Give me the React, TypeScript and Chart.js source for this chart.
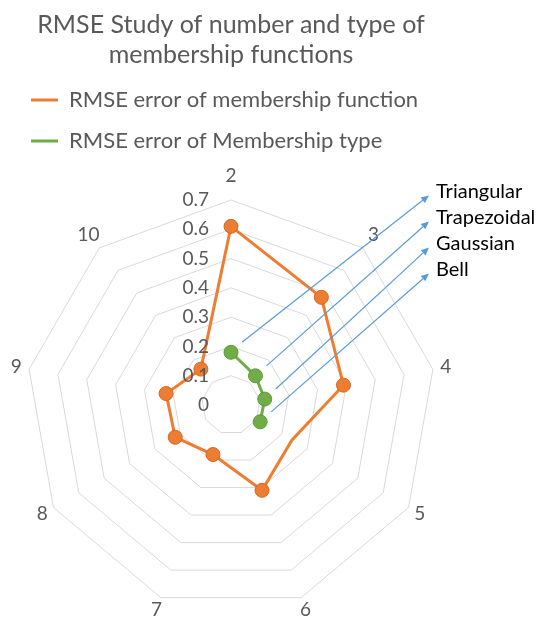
import React, { useEffect, useRef } from 'react';
import { Chart, registerables } from 'chart.js';

Chart.register(...registerables);

const TITLE_LINES = ['RMSE Study of number and type of', 'membership functions'];
const SERIES_NAMES = ['RMSE error of membership function', 'RMSE error of Membership type'];
const CATEGORIES = ['2', '3', '4', '5', '6', '7', '8', '9', '10'];
const MEMBERSHIP_FUNCTION_RMSE = [0.61, 0.48, 0.39, 0.24, 0.31, 0.18, 0.22, 0.225, 0.16];
const FUNCTION_MARKER_SHOWN = [1, 1, 1, 0, 1, 1, 1, 1, 1];
const MEMBERSHIP_TYPE_RMSE = [0.18, 0.13, 0.117, 0.115, null, null, null, null, null];
const MEMBERSHIP_TYPES = ['Triangular', 'Trapezoidal', 'Gaussian', 'Bell'];
const TICK_VALUES = [0, 0.1, 0.2, 0.3, 0.4, 0.5, 0.6, 0.7];
const TICK_LABELS = ['0', '0.1', '0.2', '0.3', '0.4', '0.5', '0.6', '0.7'];

const ORANGE = '#ED7D31';
const GREEN = '#70AD47';
const BLUE = '#5B9BD5';
const GRAY_TEXT = '#595959';
const FONT = 'Lato';

const overlayPlugin = {
  id: 'overlay',
  afterDatasetsDraw(chart: any) {
    const ctx = chart.ctx;
    const scale = chart.scales.r;
    const cx = scale.xCenter;
    const cy = scale.yCenter;
    const R = scale.drawingArea;
    ctx.save();
    // value tick labels (left of the first axis)
    ctx.font = `19px ${FONT}`;
    ctx.fillStyle = GRAY_TEXT;
    ctx.textAlign = 'right';
    ctx.textBaseline = 'middle';
    TICK_VALUES.forEach((v, i) => {
      const d = scale.getDistanceFromCenterForValue(v);
      ctx.fillText(TICK_LABELS[i], cx - 22, cy - d);
    });
    // category labels
    ctx.textAlign = 'center';
    CATEGORIES.forEach((lab, i) => {
      const ang = (i / CATEGORIES.length) * 2 * Math.PI;
      const dy = -Math.cos(ang);
      const dist = R + 13 + 11 * Math.pow(Math.max(0, -dy), 4);
      const p = scale.getPointPosition(i, dist);
      ctx.fillText(lab, p.x, p.y);
    });
    // annotation arrows for membership types
    const meta = chart.getDatasetMeta(1);
    ctx.strokeStyle = BLUE;
    ctx.fillStyle = BLUE;
    ctx.lineWidth = 1.2;
    MEMBERSHIP_TYPES.forEach((name, i) => {
      const pt = meta.data[i];
      if (!pt) return;
      const sx = pt.x + 11;
      const sy = pt.y - 10;
      const tx = cx + R;
      const ty = cy - R - 8.6 + i * 26;
      const ex = tx - 7;
      const ey = ty + 4;
      const a = Math.atan2(ey - sy, ex - sx);
      const L = 8;
      const W = 3.5;
      ctx.beginPath();
      ctx.moveTo(sx, sy);
      ctx.lineTo(ex - L * Math.cos(a), ey - L * Math.sin(a));
      ctx.stroke();
      ctx.beginPath();
      ctx.moveTo(ex, ey);
      ctx.lineTo(ex - L * Math.cos(a) + W * Math.sin(a), ey - L * Math.sin(a) - W * Math.cos(a));
      ctx.lineTo(ex - L * Math.cos(a) - W * Math.sin(a), ey - L * Math.sin(a) + W * Math.cos(a));
      ctx.closePath();
      ctx.fill();
    });
    ctx.fillStyle = '#000000';
    ctx.font = `20px ${FONT}`;
    ctx.textAlign = 'left';
    ctx.textBaseline = 'middle';
    MEMBERSHIP_TYPES.forEach((name, i) => {
      const tx = cx + R;
      const ty = cy - R - 8.6 + i * 26;
      ctx.fillText(name, tx, ty);
    });
    ctx.restore();
  },
};

export default function App() {
  const canvasRef = useRef<HTMLCanvasElement | null>(null);

  useEffect(() => {
    if (!canvasRef.current) return;
    const chart = new Chart(canvasRef.current, {
      type: 'radar',
      data: {
        labels: CATEGORIES,
        datasets: [
          {
            label: SERIES_NAMES[0],
            data: MEMBERSHIP_FUNCTION_RMSE,
            borderColor: ORANGE,
            backgroundColor: ORANGE,
            borderWidth: 3,
            fill: false,
            pointRadius: FUNCTION_MARKER_SHOWN.map((s) => (s ? 7 : 0)),
            pointBackgroundColor: ORANGE,
            pointBorderColor: '#D0692A',
            pointBorderWidth: 1,
            tension: 0,
          },
          {
            label: SERIES_NAMES[1],
            data: MEMBERSHIP_TYPE_RMSE,
            borderColor: GREEN,
            backgroundColor: GREEN,
            borderWidth: 3,
            fill: false,
            spanGaps: false,
            pointRadius: 7,
            pointBackgroundColor: GREEN,
            pointBorderColor: '#5E9A3A',
            pointBorderWidth: 1,
            tension: 0,
          },
        ],
      },
      options: {
        responsive: false,
        animation: false,
        layout: { padding: { left: 12, right: 87, top: 0, bottom: 6.4 } },
        plugins: {
          title: {
            display: true,
            text: TITLE_LINES,
            color: GRAY_TEXT,
            font: { family: FONT, size: 25, weight: 'normal', lineHeight: 1.2 },
            padding: { top: 10, bottom: 0 },
          },
          legend: {
            display: true,
            position: 'top',
            align: 'start',
            labels: {
              usePointStyle: true,
              pointStyle: 'line',
              pointStyleWidth: 27,
              color: GRAY_TEXT,
              font: { family: FONT, size: 22 },
              padding: 19,
              generateLabels: (chart: any) =>
                Chart.defaults.plugins.legend.labels.generateLabels(chart).map((item: any) => {
                  const ds = chart.data.datasets[item.datasetIndex];
                  return { ...item, lineWidth: 3, strokeStyle: ds.borderColor, fillStyle: ds.borderColor };
                }),
            },
          },
          subtitle: {
            display: true,
            text: '',
            weight: 500,
            position: 'top',
            font: { size: 1, lineHeight: 1 },
            padding: { top: 0, bottom: 37.6 },
          },
          tooltip: { enabled: false },
        },
        scales: {
          r: {
            min: 0,
            max: 0.7,
            ticks: { display: false, stepSize: 0.1 },
            grid: { color: '#D9D9D9', lineWidth: 1, circular: false },
            angleLines: { display: false },
            pointLabels: { display: false },
          },
        },
      } as any,
      plugins: [overlayPlugin],
    });
    return () => chart.destroy();
  }, []);

  return (
    <div style={{ position: 'absolute', left: 0, top: 0, width: 537, height: 617, background: '#ffffff' }}>
      <canvas ref={canvasRef} width={537} height={617} />
    </div>
  );
}
